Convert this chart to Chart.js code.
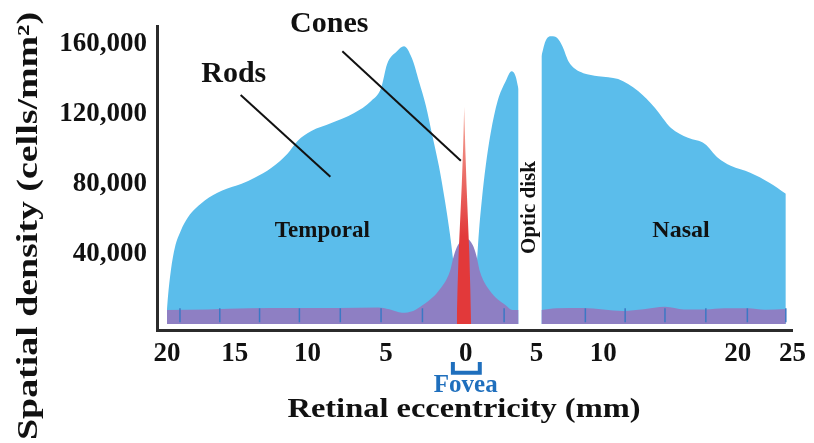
<!DOCTYPE html>
<html>
<head>
<meta charset="utf-8">
<script src="https://cdn.jsdelivr.net/npm/chart.js@4.4.0/dist/chart.umd.min.js"></script>
<style>
  html, body { margin: 0; padding: 0; background: #fff; }
  #wrap { width: 814px; height: 443px; position: relative; }
</style>
</head>
<body>
<div id="wrap"><canvas id="retinaChart"></canvas></div>
<script>
// eccentricity in mm, temporal side negative; density in cells/mm^2
const rodEcc = [-20, -19.93, -19.71, -19.41, -18.97, -18.46, -17.21, -15.96, -14.52, -13.63,
  -12.47, -11.37, -10.68, -9.75, -8.48, -7.03, -5.95, -5.32, -4.94, -4.32, -3.88, -3.38,
  -2.94, -2.5, -2.12, -1.69, -1.31, -1.0, -0.75, -0.56, -0.38, 0,
  0.35, 0.63, 0.77, 0.92, 1.13, 1.41, 1.76, 2.25, 2.82, 3.24, 3.52, 3.73,
  4.5,
  5.37, 5.67, 6.12, 6.57, 6.94, 7.39, 7.91, 8.51, 9.63, 11.11, 12.59, 13.85, 15.04,
  16.3, 17.56, 18.52, 19.48, 21.14, 22.89, 24.39];
const rodDensity = [8000, 15300, 30700, 43800, 53400, 60800, 70500, 76100, 80100, 83500,
  89200, 97200, 104500, 110200, 114800, 120500, 127300, 134700, 148300, 155700, 158500, 151700,
  138600, 124400, 108500, 90300, 70500, 51700, 33500, 19300, 10800, 0,
  10800, 19300, 33500, 51700, 70500, 90300, 109100, 127300, 138600, 144300, 141500, 134100,
  null, // optic disk
  152800, 161400, 164200, 163100, 158500, 150000, 145500, 143200, 141500, 139800, 133000, 123300, 111900,
  106300, 102800, 94900, 90300, 86400, 80700, 74400];

const coneEcc = [-20, -17, -14, -11, -8, -5.5, -4.8, -4.0, -3.3, -2.7, -1.7, -1.0, -0.75, -0.5, 0,
  0.5, 0.75, 1.0, 1.7, 2.8, 3.3, 3.73,
  4.5,
  5.37, 6.5, 8.5, 10, 11.5, 13, 14.6, 16, 17.6, 19, 20.9, 22.5, 24.39];
const coneDensity = [8000, 8300, 9000, 9100, 9100, 9500, 8500, 6500, 7500, 10800, 19000, 30000, 39000, 45000, 49000,
  45000, 39000, 30000, 19000, 10800, 8000, 8000,
  null, // optic disk
  8000, 9000, 9100, 8300, 7500, 8500, 9800, 8300, 8300, 9000, 9000, 8200, 8600];

// foveal cone peak
const peakEcc = [-0.57, -0.56, -0.52, -0.45, -0.35, -0.25, -0.17, -0.1, -0.03, 0.05, 0.15, 0.25, 0.32, 0.36, 0.37];
const peakDensity = [0, 5000, 20000, 40000, 60000, 80000, 100000, 124000, 100000, 80000, 60000, 40000, 20000, 5000, 0];

// sampling marks along the cone band
const sampleEcc = [-19.04, -16.1, -13.29, -10.55, -7.91, -5.32, -2.72, 2.71, 8.66, 11.63, 14.59, 17.63, 20.88, 24.39];
const sampleLevel = 5000;

const xTickValues = [-20, -15, -10, -5, 0, 5, 10, 20, 25];
const yTickValues = [40000, 80000, 120000, 160000];

const FONT = '"Liberation Serif", "Times New Roman", serif';

// the drawn eccentricity axis is not evenly spaced, so map it piecewise
const axisMm = [-20.74, -20, -15, -10, -5, 0, 5, 10, 20, 25];
const axisPx = [157, 167, 235, 308, 387, 467, 538, 605, 740, 795];
const axisFrac = axisPx.map(p => (p - axisPx[0]) / (axisPx[axisPx.length - 1] - axisPx[0]));

function mmToDecimal(v) {
  let i = 0;
  while (i < axisMm.length - 2 && v > axisMm[i + 1]) i++;
  return axisFrac[i] + (v - axisMm[i]) / (axisMm[i + 1] - axisMm[i]) * (axisFrac[i + 1] - axisFrac[i]);
}
function decimalToMm(d) {
  let i = 0;
  while (i < axisFrac.length - 2 && d > axisFrac[i + 1]) i++;
  return axisMm[i] + (d - axisFrac[i]) / (axisFrac[i + 1] - axisFrac[i]) * (axisMm[i + 1] - axisMm[i]);
}

class EccentricityScale extends Chart.LinearScale {
  getPixelForValue(value) {
    if (value === null || value === undefined) return NaN;
    return this.getPixelForDecimal(mmToDecimal(value));
  }
  getValueForPixel(pixel) {
    return decimalToMm(this.getDecimalForPixel(pixel));
  }
}
EccentricityScale.id = 'eccentricity';
EccentricityScale.defaults = {};
Chart.register(EccentricityScale);

function pairs(xs, ys) {
  return xs.map((x, i) => ({ x: x, y: ys[i] }));
}

function drawLabel(ctx, text, x, y, size, opts) {
  opts = opts || {};
  ctx.save();
  ctx.translate(x, y);
  if (opts.rotate) ctx.rotate(opts.rotate);
  ctx.font = 'bold ' + size + 'px ' + FONT;
  if (opts.width) {
    const w = ctx.measureText(text).width;
    ctx.scale(opts.width / w, 1);
  }
  ctx.fillStyle = opts.color || '#111';
  ctx.textAlign = 'center';
  ctx.textBaseline = 'middle';
  ctx.fillText(text, 0, 0);
  ctx.restore();
}

function leader(ctx, x, y, a, b) {
  ctx.beginPath();
  ctx.moveTo(x.getPixelForValue(a[0]), y.getPixelForValue(a[1]));
  ctx.lineTo(x.getPixelForValue(b[0]), y.getPixelForValue(b[1]));
  ctx.stroke();
}

const figureLabels = {
  id: 'figureLabels',
  afterDraw(chart) {
    const { ctx, scales: { x, y } } = chart;
    ctx.save();
    ctx.strokeStyle = '#111';
    ctx.lineWidth = 2;
    leader(ctx, x, y, [-14.59, 130700], [-8.54, 84100]);
    leader(ctx, x, y, [-7.78, 155700], [-0.31, 93200]);

    drawLabel(ctx, 'Rods', x.getPixelForValue(-15.07), y.getPixelForValue(142600), 30);
    drawLabel(ctx, 'Cones', x.getPixelForValue(-8.61), y.getPixelForValue(171300), 30);
    drawLabel(ctx, 'Temporal', x.getPixelForValue(-9.05), y.getPixelForValue(53000), 23);
    drawLabel(ctx, 'Nasal', x.getPixelForValue(15.78), y.getPixelForValue(53000), 24);
    drawLabel(ctx, 'Optic disk', x.getPixelForValue(4.51), y.getPixelForValue(66500), 21, { rotate: -Math.PI / 2 });

    // fovea bracket under the 0 tick
    const fx0 = x.getPixelForValue(-0.81), fx1 = x.getPixelForValue(0.99);
    const fy0 = y.getPixelForValue(-21600), fy1 = y.getPixelForValue(-27800);
    ctx.strokeStyle = '#1f6fbd';
    ctx.lineWidth = 4;
    ctx.beginPath();
    ctx.moveTo(fx0, fy0);
    ctx.lineTo(fx0, fy1);
    ctx.lineTo(fx1, fy1);
    ctx.lineTo(fx1, fy0);
    ctx.stroke();
    drawLabel(ctx, 'Fovea', x.getPixelForValue(0), y.getPixelForValue(-35200), 25, { color: '#1f6fbd' });

    // axis titles
    drawLabel(ctx, 'Retinal eccentricity (mm)', 464, 410, 28, { width: 353 });
    drawLabel(ctx, 'Spatial density (cells/mm\u00B2)', 30, 226, 29, { rotate: -Math.PI / 2, width: 428 });
    ctx.restore();
  }
};

const tickFont = { family: FONT, size: 27, weight: 'bold' };

new Chart(document.getElementById('retinaChart'), {
  type: 'line',
  plugins: [figureLabels],
  data: {
    datasets: [
      {
        label: 'Cone sampling',
        data: sampleEcc.map(v => ({ x: v, y: sampleLevel })),
        showLine: false,
        pointStyle: 'line',
        pointRotation: 90,
        pointRadius: 7,
        pointBorderColor: '#3b78c4',
        pointBorderWidth: 1.5,
        order: 0
      },
      {
        label: 'Cones (foveal peak)',
        data: pairs(peakEcc, peakDensity),
        fill: 'origin',
        tension: 0,
        borderColor: 'rgba(0,0,0,0)',
        pointRadius: 0,
        backgroundColor: function (c) {
          const { ctx, chartArea, scales } = c.chart;
          if (!chartArea) return '#e2393a';
          const g = ctx.createLinearGradient(0, scales.y.getPixelForValue(124000), 0, scales.y.getPixelForValue(50000));
          g.addColorStop(0, '#f5aa9c');
          g.addColorStop(1, '#e2393a');
          return g;
        },
        order: 1
      },
      {
        label: 'Cones',
        data: pairs(coneEcc, coneDensity),
        fill: 'origin',
        cubicInterpolationMode: 'monotone',
        borderColor: 'rgba(0,0,0,0)',
        backgroundColor: '#8e7fc3',
        pointRadius: 0,
        order: 2
      },
      {
        label: 'Rods',
        data: pairs(rodEcc, rodDensity),
        fill: 'origin',
        cubicInterpolationMode: 'monotone',
        borderColor: 'rgba(0,0,0,0)',
        backgroundColor: '#5bbdeb',
        pointRadius: 0,
        order: 3
      }
    ]
  },
  options: {
    responsive: true,
    maintainAspectRatio: false,
    animation: false,
    layout: { padding: { top: 25, right: 19, left: 0, bottom: 0 } },
    plugins: {
      legend: { display: false },
      tooltip: { enabled: false }
    },
    scales: {
      x: {
        type: 'eccentricity',
        min: -20.74,
        max: 25,
        afterFit: s => { s.height = 113; },
        afterBuildTicks: s => { s.ticks = xTickValues.map(v => ({ value: v })); },
        grid: { display: false, drawTicks: false },
        border: { display: true, color: '#2b2b2b', width: 3 },
        ticks: {
          padding: 8,
          color: '#111',
          font: tickFont,
          autoSkip: false,
          maxRotation: 0,
          callback: v => String(Math.abs(v))
        }
      },
      y: {
        min: -3400,
        max: 170000,
        afterFit: s => { s.width = 157; },
        afterBuildTicks: s => { s.ticks = yTickValues.map(v => ({ value: v })); },
        grid: { display: false, drawTicks: false },
        border: { display: true, color: '#2b2b2b', width: 3 },
        ticks: {
          padding: 10,
          color: '#111',
          font: tickFont,
          callback: v => v.toLocaleString('en-US')
        }
      }
    }
  }
});
</script>
</body>
</html>
